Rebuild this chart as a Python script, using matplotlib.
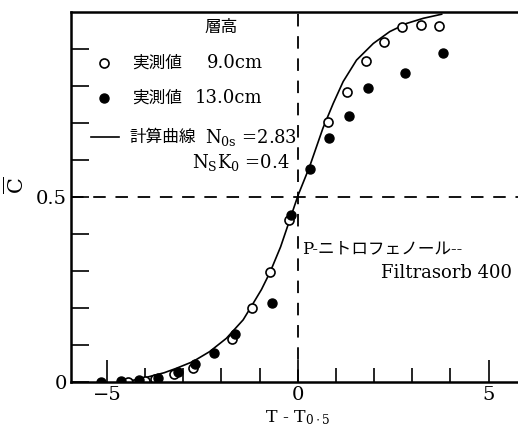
import matplotlib
matplotlib.use("Agg")
import matplotlib.pyplot as plt

plt.rcParams['font.family'] = ['DejaVu Serif', 'Noto Sans CJK JP']
plt.rcParams['mathtext.fontset'] = 'dejavuserif'
plt.rcParams['lines.scale_dashes'] = False

# 実測値 層高 9.0cm (open circles)
x_open = [-4.45, -4.0, -3.73, -3.23, -2.75, -1.72, -1.21, -0.72, -0.23,
          0.78, 1.28, 1.78, 2.27, 2.74, 3.22, 3.71]
y_open = [0.0, 0.003, 0.007, 0.022, 0.037, 0.116, 0.199, 0.298, 0.438,
          0.704, 0.785, 0.868, 0.919, 0.96, 0.965, 0.962]

# 実測値 層高 13.0cm (filled circles)
x_fill = [-5.15, -4.63, -4.15, -3.67, -3.14, -2.68, -2.20, -1.65, -0.67,
          -0.17, 0.31, 0.82, 1.34, 1.83, 2.81, 3.80]
y_fill = [0.0, 0.003, 0.005, 0.012, 0.028, 0.049, 0.079, 0.131, 0.213,
          0.451, 0.575, 0.66, 0.72, 0.794, 0.834, 0.89]

# 計算曲線
x_calc = [-4.67, -4.35, -4.06, -3.5, -3.18, -2.75, -2.31, -1.87, -1.43, -1.2,
          -0.95, -0.72, -0.45, -0.21, 0.01, 0.31, 0.66, 0.93, 1.19, 1.54,
          1.98, 2.41, 2.85, 3.29, 3.77]
y_calc = [0.0, 0.004, 0.01, 0.025, 0.037, 0.055, 0.082, 0.118, 0.168, 0.207,
          0.25, 0.298, 0.365, 0.438, 0.505, 0.582, 0.686, 0.753, 0.812, 0.870,
          0.915, 0.947, 0.969, 0.983, 0.994]

fig = plt.figure(figsize=(5.18, 4.28), dpi=100)
ax = fig.add_axes([71/518, 46/428, (518-71)/518, 370/428])

ax.plot(x_calc, y_calc, color='black', lw=1.2)
ax.plot(x_open, y_open, 'o', ms=6.5, mfc='white', mec='black', mew=1.2)
ax.plot(x_fill, y_fill, 'o', ms=6.5, mfc='black', mec='black')

ax.axvline(0, color='black', lw=1.3, dashes=(9, 7))
ax.axhline(0.5, color='black', lw=1.3, dashes=(9, 7))

ax.set_xlim(-5.94, 5.77)
ax.set_ylim(0, 1.0)

for s in ['left', 'top', 'bottom']:
    ax.spines[s].set_linewidth(1.8)
ax.spines['right'].set_visible(False)

ax.set_xticks([-5, 0, 5])
ax.set_xticklabels(['\u22125', '0', '5'])
ax.set_xticks(range(-5, 6), minor=True)
ax.set_yticks([0, 0.5])
ax.set_yticklabels(['0', '0.5'])
ax.set_yticks([i / 10 for i in range(1, 10)], minor=True)
ax.tick_params(axis='x', which='major', direction='in', length=16, width=1.2,
               labelsize=14, pad=3)
ax.tick_params(axis='x', which='minor', direction='in', length=10, width=1.2)
ax.tick_params(axis='y', which='both', direction='in', length=13, width=1.2,
               labelsize=14, pad=3)

ax.text(0, -0.097, r'T - T$_{\mathrm{0\cdot5}}$', ha='center', va='center',
        fontsize=12.5)
fig.text(0.03, (428 - 185) / 428, r'$\overline{\mathrm{C}}$',
         rotation=90, ha='center', va='center', fontsize=15)

# legend (drawn by hand)
ax.text(-2.0, 0.957, '層高', ha='center', va='center', fontsize=12)
ax.plot([-5.07], [0.862], 'o', ms=6.5, mfc='white', mec='black', mew=1.2)
ax.text(-4.33, 0.862, '実測値', ha='left', va='center', fontsize=12)
ax.text(-0.92, 0.862, '9.0cm', ha='right', va='center', fontsize=13)
ax.plot([-5.07], [0.768], 'o', ms=6.5, mfc='black', mec='black')
ax.text(-4.33, 0.768, '実測値', ha='left', va='center', fontsize=12)
ax.text(-0.92, 0.768, '13.0cm', ha='right', va='center', fontsize=13)
ax.plot([-5.41, -4.67], [0.662, 0.662], color='black', lw=1.2)
ax.text(-4.41, 0.662, '計算曲線', ha='left', va='center', fontsize=12)
ax.text(-2.44, 0.662, r'N$_{\mathrm{0s}}$ =2.83', ha='left', va='center',
        fontsize=13)
ax.text(-2.76, 0.592, r'N$_{\mathrm{S}}$K$_{\mathrm{0}}$ =0.4', ha='left',
        va='center', fontsize=13)

ax.text(0.1, 0.36, 'P-ニトロフェノール--', ha='left', va='center', fontsize=12)
ax.text(5.6, 0.295, 'Filtrasorb 400', ha='right', va='center', fontsize=13)

fig.savefig('out.png', dpi=100)
